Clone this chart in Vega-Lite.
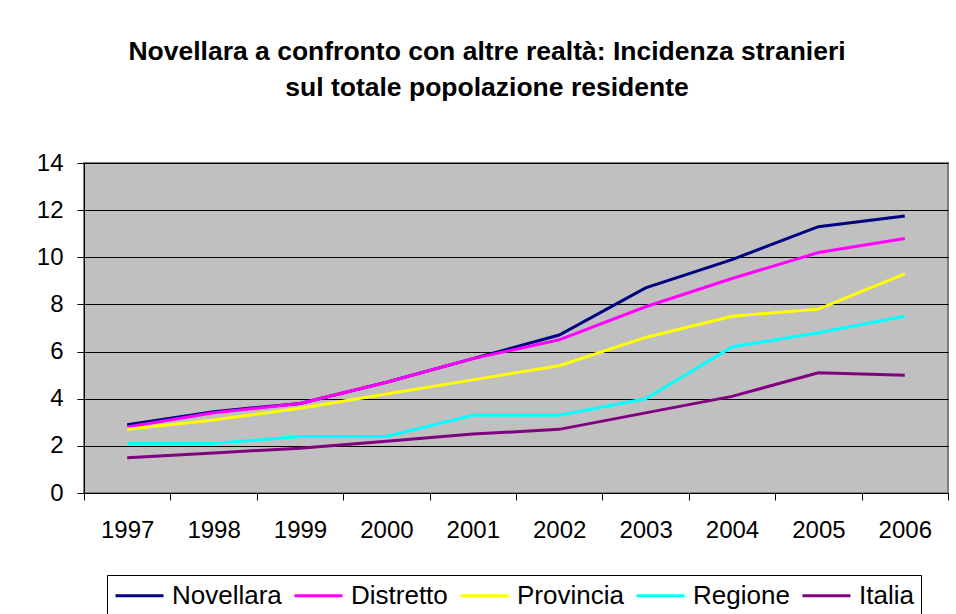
{
  "$schema": "https://vega.github.io/schema/vega-lite/v6.json",
  "autosize": {"type": "none"},
  "width": 864,
  "height": 330,
  "padding": {"left": 84, "top": 163, "right": 8, "bottom": 121},
  "background": "white",
  "title": {
    "text": ["Novellara a confronto con altre realtà: Incidenza stranieri", "sul totale popolazione residente"],
    "anchor": "middle",
    "frame": "group",
    "dx": -29,
    "offset": 50,
    "font": "Liberation Sans",
    "fontSize": 26.5,
    "fontWeight": "bold",
    "lineHeight": 35.5,
    "color": "black"
  },
  "config": {
    "font": "Liberation Sans",
    "view": {"fill": "#C0C0C0", "stroke": "#808080", "strokeWidth": 2}
  },
  "data": {
    "values": [
      {"anno": "1997", "serie": "Novellara", "valore": 2.9},
      {"anno": "1998", "serie": "Novellara", "valore": 3.45},
      {"anno": "1999", "serie": "Novellara", "valore": 3.8},
      {"anno": "2000", "serie": "Novellara", "valore": 4.7},
      {"anno": "2001", "serie": "Novellara", "valore": 5.7},
      {"anno": "2002", "serie": "Novellara", "valore": 6.7},
      {"anno": "2003", "serie": "Novellara", "valore": 8.7},
      {"anno": "2004", "serie": "Novellara", "valore": 9.9},
      {"anno": "2005", "serie": "Novellara", "valore": 11.3},
      {"anno": "2006", "serie": "Novellara", "valore": 11.75},
      {"anno": "1997", "serie": "Distretto", "valore": 2.8},
      {"anno": "1998", "serie": "Distretto", "valore": 3.4},
      {"anno": "1999", "serie": "Distretto", "valore": 3.8},
      {"anno": "2000", "serie": "Distretto", "valore": 4.7},
      {"anno": "2001", "serie": "Distretto", "valore": 5.7},
      {"anno": "2002", "serie": "Distretto", "valore": 6.5},
      {"anno": "2003", "serie": "Distretto", "valore": 7.9},
      {"anno": "2004", "serie": "Distretto", "valore": 9.1},
      {"anno": "2005", "serie": "Distretto", "valore": 10.2},
      {"anno": "2006", "serie": "Distretto", "valore": 10.8},
      {"anno": "1997", "serie": "Provincia", "valore": 2.7},
      {"anno": "1998", "serie": "Provincia", "valore": 3.1},
      {"anno": "1999", "serie": "Provincia", "valore": 3.6},
      {"anno": "2000", "serie": "Provincia", "valore": 4.2},
      {"anno": "2001", "serie": "Provincia", "valore": 4.8},
      {"anno": "2002", "serie": "Provincia", "valore": 5.4},
      {"anno": "2003", "serie": "Provincia", "valore": 6.6},
      {"anno": "2004", "serie": "Provincia", "valore": 7.5},
      {"anno": "2005", "serie": "Provincia", "valore": 7.8},
      {"anno": "2006", "serie": "Provincia", "valore": 9.3},
      {"anno": "1997", "serie": "Regione", "valore": 2.1},
      {"anno": "1998", "serie": "Regione", "valore": 2.1},
      {"anno": "1999", "serie": "Regione", "valore": 2.4},
      {"anno": "2000", "serie": "Regione", "valore": 2.4},
      {"anno": "2001", "serie": "Regione", "valore": 3.3},
      {"anno": "2002", "serie": "Regione", "valore": 3.3},
      {"anno": "2003", "serie": "Regione", "valore": 4.0},
      {"anno": "2004", "serie": "Regione", "valore": 6.2},
      {"anno": "2005", "serie": "Regione", "valore": 6.8},
      {"anno": "2006", "serie": "Regione", "valore": 7.5},
      {"anno": "1997", "serie": "Italia", "valore": 1.5},
      {"anno": "1998", "serie": "Italia", "valore": 1.7},
      {"anno": "1999", "serie": "Italia", "valore": 1.9},
      {"anno": "2000", "serie": "Italia", "valore": 2.2},
      {"anno": "2001", "serie": "Italia", "valore": 2.5},
      {"anno": "2002", "serie": "Italia", "valore": 2.7},
      {"anno": "2003", "serie": "Italia", "valore": 3.4},
      {"anno": "2004", "serie": "Italia", "valore": 4.1},
      {"anno": "2005", "serie": "Italia", "valore": 5.1},
      {"anno": "2006", "serie": "Italia", "valore": 5.0}
    ]
  },
  "mark": {"type": "line", "strokeWidth": 3},
  "encoding": {
    "x": {
      "field": "anno",
      "type": "ordinal",
      "bandPosition": 0.5,
      "scale": {"type": "band", "paddingInner": 0, "paddingOuter": 0},
      "axis": {
        "title": null,
        "labelAngle": 0,
        "tickBand": "extent",
        "domainColor": "black",
        "domainWidth": 1,
        "tickColor": "black",
        "tickSize": 7,
        "labelFont": "Liberation Sans",
        "labelFontSize": 24,
        "labelColor": "black",
        "labelPadding": 18,
        "grid": false
      }
    },
    "y": {
      "field": "valore",
      "type": "quantitative",
      "scale": {"domain": [0, 14], "nice": false},
      "axis": {
        "title": null,
        "values": [0, 2, 4, 6, 8, 10, 12, 14],
        "domainColor": "black",
        "domainWidth": 1,
        "tickColor": "black",
        "tickSize": 7,
        "labelFont": "Liberation Sans",
        "labelFontSize": 24,
        "labelColor": "black",
        "labelPadding": 14,
        "grid": true,
        "gridColor": "black",
        "gridWidth": 1,
        "gridOpacity": 1
      }
    },
    "color": {
      "field": "serie",
      "type": "nominal",
      "scale": {
        "domain": ["Novellara", "Distretto", "Provincia", "Regione", "Italia"],
        "range": ["#000080", "#FF00FF", "#FFFF00", "#00FFFF", "#800080"]
      },
      "legend": {
        "title": null,
        "orient": "none",
        "legendX": 23,
        "legendY": 412,
        "direction": "horizontal",
        "columns": 5,
        "columnPadding": 6,
        "padding": 7,
        "strokeColor": "black",
        "fillColor": "white",
        "symbolType": "M-1,0H3",
        "symbolSize": 576,
        "symbolStrokeWidth": 3,
        "symbolFillColor": "transparent",
        "labelOffset": 31,
        "labelFont": "Liberation Sans",
        "labelFontSize": 26,
        "labelColor": "black",
        "labelLimit": 300
      }
    }
  }
}
